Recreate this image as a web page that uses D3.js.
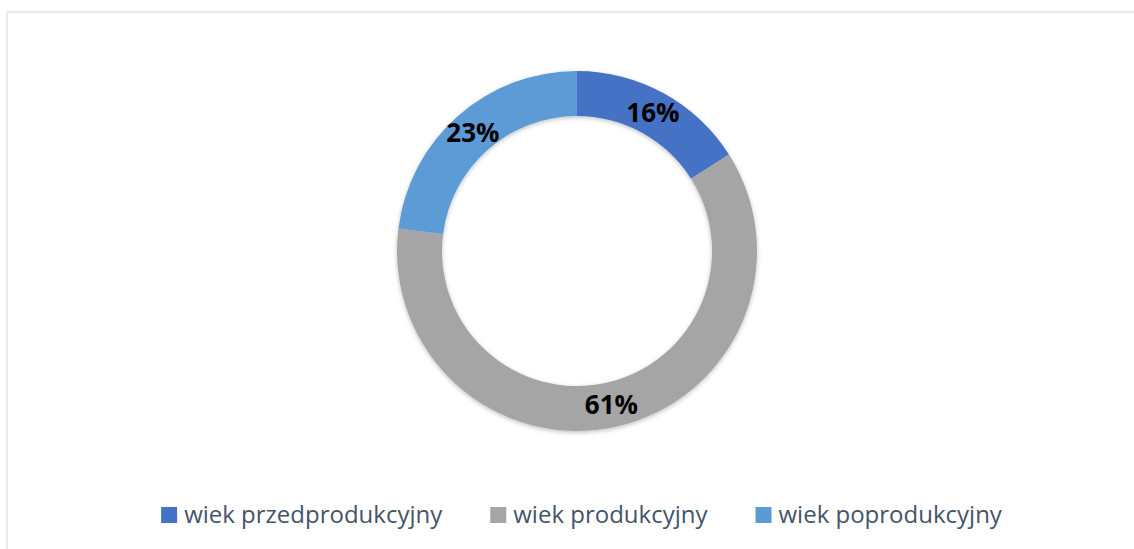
<!DOCTYPE html>
<html>
<head>
<meta charset="utf-8">
<script src="https://cdn.jsdelivr.net/npm/d3@7"></script>
<style>
  body { margin: 0; background: #fff; }
  svg { display: block; }
</style>
</head>
<body>
<div id="chart"></div>
<script>
// data
const categories = ["wiek przedprodukcyjny", "wiek produkcyjny", "wiek poprodukcyjny"];
const values = [16, 61, 23];
const colors = ["#4472C4", "#A5A5A5", "#5B9BD5"];

const width = 1134, height = 549;
const cx = 577, cy = 251;
const outerR = 180, innerR = 135;

const svg = d3.select("#chart").append("svg")
    .attr("width", width)
    .attr("height", height);

// chart frame (runs off the right and bottom edges)
svg.append("rect")
    .attr("x", 7).attr("y", 12)
    .attr("width", width).attr("height", height)
    .attr("fill", "#fff")
    .attr("stroke", "#dfe3e8")
    .attr("stroke-width", 1.5);

// soft shadow like the office chart
const defs = svg.append("defs");
const f = defs.append("filter").attr("id", "shadow")
    .attr("x", "-10%").attr("y", "-10%").attr("width", "120%").attr("height", "120%");
f.append("feDropShadow")
    .attr("dx", 0).attr("dy", 1.5)
    .attr("stdDeviation", 2)
    .attr("flood-color", "#000").attr("flood-opacity", 0.25);

const data = categories.map((c, i) => ({ name: c, value: values[i], color: colors[i] }));

const pie = d3.pie().value(d => d.value).sort(null);
const arc = d3.arc().innerRadius(innerR).outerRadius(outerR);
const labelArc = d3.arc().innerRadius((innerR + outerR) / 2).outerRadius((innerR + outerR) / 2);

const g = svg.append("g").attr("transform", `translate(${cx},${cy})`);

g.append("g").attr("filter", "url(#shadow)")
    .selectAll("path")
    .data(pie(data))
    .join("path")
    .attr("d", arc)
    .attr("fill", d => d.data.color);

g.selectAll(".value-label")
    .data(pie(data))
    .join("text")
    .attr("class", "value-label")
    .attr("transform", d => `translate(${labelArc.centroid(d)})`)
    .attr("text-anchor", "middle")
    .attr("dy", "0.36em")
    .style("font-family", "'Open Sans', sans-serif")
    .style("font-weight", "bold")
    .style("font-size", "26px")
    .style("fill", "#000")
    .text(d => d.data.value + "%");

// legend, laid out from measured text widths and centred
const legend = svg.append("g");
const sw = 16, gapText = 7, gapItem = 48;
let x = 0;
data.forEach(d => {
    const item = legend.append("g").attr("transform", `translate(${x},0)`);
    item.append("rect")
        .attr("x", 0).attr("y", -16)
        .attr("width", sw).attr("height", sw)
        .attr("fill", d.color);
    const t = item.append("text")
        .attr("x", sw + gapText).attr("y", 0)
        .style("font-family", "'Open Sans', sans-serif")
        .style("font-size", "24px")
        .style("fill", "#44546A")
        .text(d.name);
    x += sw + gapText + t.node().getComputedTextLength() + gapItem;
});
const legendW = x - gapItem;
legend.attr("transform", `translate(${581.5 - legendW / 2},523)`);
</script>
</body>
</html>
